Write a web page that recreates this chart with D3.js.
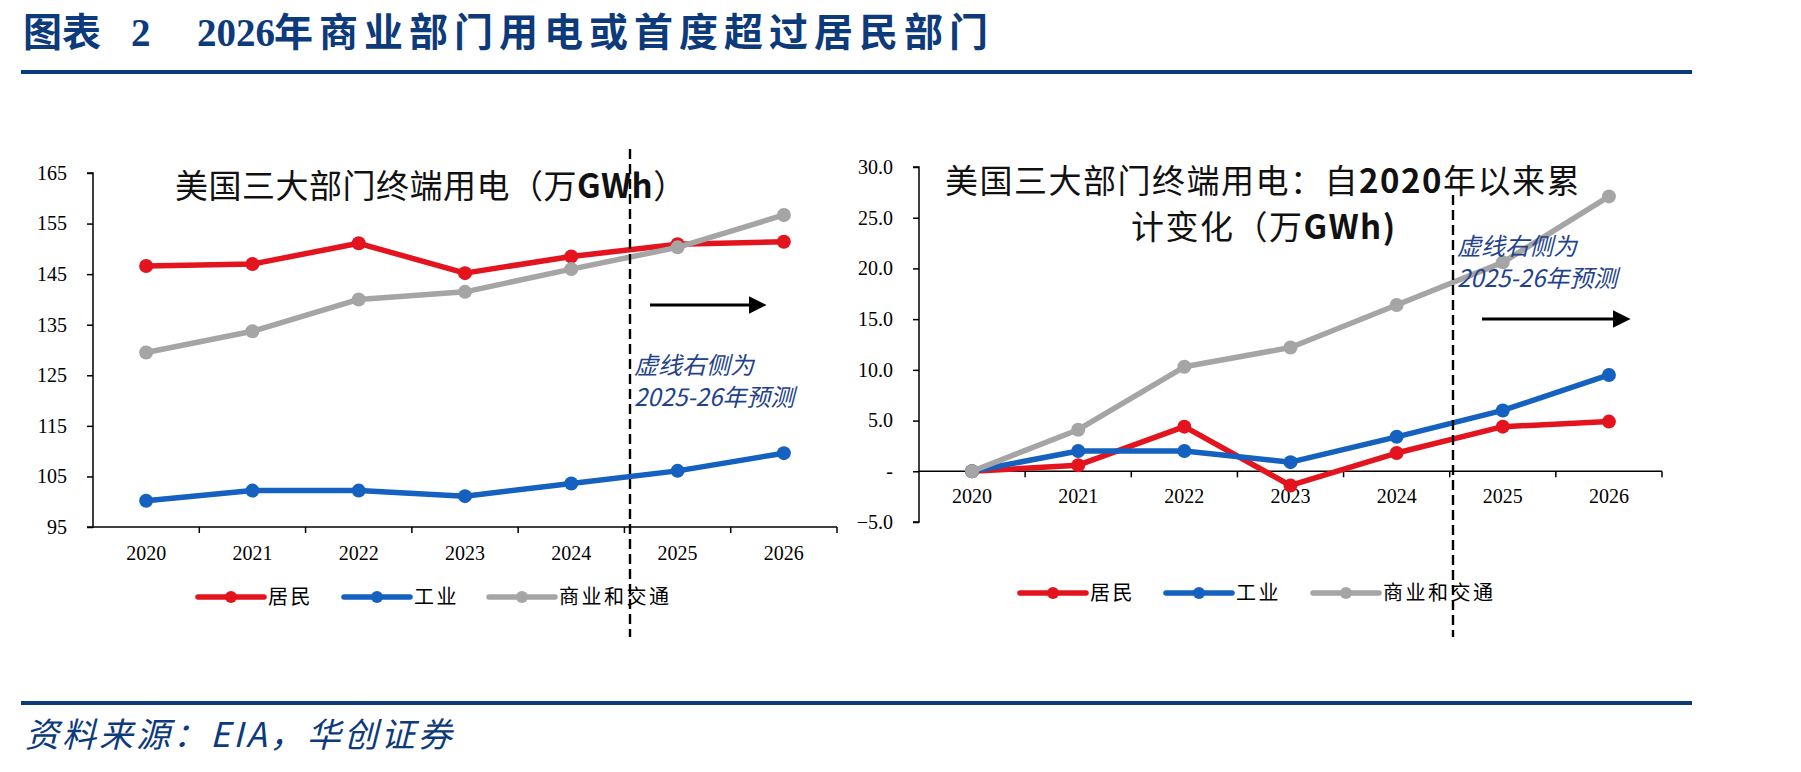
<!DOCTYPE html>
<html>
<head>
<meta charset="utf-8">
<script src="https://cdn.jsdelivr.net/npm/d3@7"></script>
<style>
  body { margin: 0; background: #fff; }
  svg text { font-family: "Liberation Serif", serif; }
</style>
</head>
<body>
<div id="chart"></div>
<script>
// data
const years = [2020, 2021, 2022, 2023, 2024, 2025, 2026];
const seriesNames = ["居民", "工业", "商业和交通"];
const seriesColors = ["#E3141D", "#1461BF", "#A5A5A5"];

// level, 万GWh
const resLevel = [146.6, 147.0, 151.1, 145.2, 148.5, 150.9, 151.4];
const indLevel = [100.2, 102.2, 102.2, 101.1, 103.6, 106.1, 109.6];
const comLevel = [129.5, 133.7, 140.0, 141.5, 146.0, 150.3, 156.7];

// cumulative change since 2020, 万GWh
const resChange = [0, 0.6, 4.4, -1.4, 1.8, 4.4, 4.9];
const indChange = [0, 2.0, 2.0, 0.9, 3.4, 6.0, 9.5];
const comChange = [0, 4.1, 10.3, 12.2, 16.4, 20.6, 27.1];

const leftTicks = [95, 105, 115, 125, 135, 145, 155, 165];
const rightTicks = [-5, 0, 5, 10, 15, 20, 25, 30];

const W = 1801, H = 772;
const navy = "#0D3A7B";
const noteBlue = "#23428A";
const cjk = '"Noto Sans CJK SC", "Noto Sans", sans-serif';
const serif = '"Liberation Serif", serif';

const svg = d3.select("#chart").append("svg")
  .attr("width", W).attr("height", H);

svg.append("defs").append("marker")
  .attr("id", "arrowHead")
  .attr("viewBox", "0 0 10 10")
  .attr("refX", 8).attr("refY", 5)
  .attr("markerWidth", 6).attr("markerHeight", 6)
  .attr("markerUnits", "strokeWidth")
  .attr("orient", "auto")
  .append("path").attr("d", "M0,0 L10,5 L0,10 Z").attr("fill", "#000");

// header
const head = svg.append("g")
  .attr("fill", navy)
  .style("font-size", "39px")
  .style("font-weight", "bold");
head.append("text").attr("x", 23).attr("y", 46)
  .style("font-family", cjk).text("图表");
head.append("text").attr("x", 131).attr("y", 46)
  .style("font-family", serif).text("2");
head.append("text").attr("x", 197).attr("y", 46)
  .style("font-family", serif).text("2026");
head.append("text").attr("x", 274).attr("y", 46)
  .style("font-family", cjk).attr("letter-spacing", 6)
  .text("年商业部门用电或首度超过居民部门");

svg.append("line")
  .attr("x1", 21).attr("x2", 1692).attr("y1", 72).attr("y2", 72)
  .attr("stroke", navy).attr("stroke-width", 4);
svg.append("line")
  .attr("x1", 21).attr("x2", 1692).attr("y1", 703).attr("y2", 703)
  .attr("stroke", navy).attr("stroke-width", 4);

svg.append("text")
  .attr("x", 25).attr("y", 747)
  .attr("fill", navy)
  .attr("letter-spacing", 3)
  .style("font-size", "34px")
  .style("font-style", "italic")
  .style("font-family", cjk)
  .text("资料来源：EIA，华创证券");

function drawPanel(cfg) {
  const x = d3.scaleBand().domain(years).range(cfg.xRange).padding(0);
  const y = d3.scaleLinear().domain(cfg.yDomain).range(cfg.yRange);
  const g = svg.append("g");

  // y axis
  const yAxis = g.append("g")
    .attr("transform", "translate(" + cfg.xRange[0] + ",0)")
    .call(d3.axisLeft(y).tickValues(cfg.ticks).tickSize(6).tickPadding(20)
      .tickFormat(cfg.fmt));
  yAxis.select(".domain").attr("stroke", "#000").attr("stroke-width", 1.5)
    .attr("d", "M-6," + y(cfg.ticks[cfg.ticks.length - 1]) + "H0V" + y(cfg.ticks[0]) + "H-6");
  yAxis.selectAll(".tick line").attr("stroke", "#000").attr("stroke-width", 1.5);
  yAxis.selectAll("text").style("font-size", "20px").attr("fill", "#000");

  // x axis (ticks at band boundaries)
  const base = y(cfg.xAxisAt);
  const xa = g.append("g");
  xa.append("line")
    .attr("x1", cfg.xRange[0]).attr("x2", cfg.xRange[1])
    .attr("y1", base).attr("y2", base)
    .attr("stroke", "#000").attr("stroke-width", 1.5);
  xa.selectAll(".bt").data(years.slice(1).concat(["end"]))
    .enter().append("line")
    .attr("x1", (d, i) => cfg.xRange[0] + (i + 1) * x.step())
    .attr("x2", (d, i) => cfg.xRange[0] + (i + 1) * x.step())
    .attr("y1", base).attr("y2", base + 6)
    .attr("stroke", "#000").attr("stroke-width", 1.5);
  xa.selectAll(".xl").data(years).enter().append("text")
    .attr("x", d => x(d) + x.bandwidth() / 2)
    .attr("y", cfg.xLabelY)
    .attr("text-anchor", "middle")
    .style("font-size", "20px")
    .text(d => d);

  // series
  const line = d3.line()
    .x((d, i) => x(years[i]) + x.bandwidth() / 2)
    .y(d => y(d));
  cfg.series.forEach((vals, k) => {
    g.append("path").datum(vals)
      .attr("d", line)
      .attr("fill", "none")
      .attr("stroke", seriesColors[k])
      .attr("stroke-width", 5.5)
      .attr("stroke-linejoin", "round");
    g.selectAll(".pt" + k).data(vals).enter().append("circle")
      .attr("cx", (d, i) => x(years[i]) + x.bandwidth() / 2)
      .attr("cy", d => y(d))
      .attr("r", 7)
      .attr("fill", seriesColors[k]);
  });

  // panel title, latin parts in bold
  cfg.title.forEach(t => {
    const tt = g.append("text")
      .attr("x", t.x).attr("y", t.y)
      .attr("fill", "#111")
      .attr("letter-spacing", cfg.titleSpacing)
      .style("font-family", cjk)
      .style("font-size", cfg.titleSize + "px");
    t.parts.forEach(p => {
      tt.append("tspan")
        .style("font-weight", p.bold ? "bold" : "normal")
        .text(p.s);
    });
  });

  // forecast divider
  g.append("line")
    .attr("x1", cfg.dashX).attr("x2", cfg.dashX)
    .attr("y1", cfg.dashY[0]).attr("y2", cfg.dashY[1])
    .attr("stroke", "#000").attr("stroke-width", 2.4)
    .attr("stroke-dasharray", "10,5");

  g.append("line")
    .attr("x1", cfg.arrow[0]).attr("x2", cfg.arrow[1] - 4)
    .attr("y1", cfg.arrow[2]).attr("y2", cfg.arrow[2])
    .attr("stroke", "#000").attr("stroke-width", 3)
    .attr("marker-end", "url(#arrowHead)");

  ["虚线右侧为", "2025-26年预测"].forEach((s, i) => {
    g.append("text")
      .attr("x", cfg.note[0]).attr("y", cfg.note[1] + i * 32)
      .attr("fill", noteBlue)
      .style("font-family", cjk)
      .style("font-style", "italic")
      .style("font-size", "24px")
      .text(s);
  });

  // legend
  const lg = g.append("g");
  seriesNames.forEach((name, k) => {
    const lx = cfg.legendX[k];
    lg.append("line")
      .attr("x1", lx).attr("x2", lx + 66)
      .attr("y1", cfg.legendY).attr("y2", cfg.legendY)
      .attr("stroke", seriesColors[k]).attr("stroke-width", 5.5)
      .attr("stroke-linecap", "round");
    lg.append("circle")
      .attr("cx", lx + 33).attr("cy", cfg.legendY).attr("r", 6)
      .attr("fill", seriesColors[k]);
    lg.append("text")
      .attr("x", lx + 70).attr("y", cfg.legendY + 7)
      .attr("letter-spacing", 2.5)
      .style("font-family", cjk)
      .style("font-size", "20px")
      .attr("fill", "#000")
      .text(name);
  });
}

drawPanel({
  xRange: [93, 837], yDomain: [95, 165], yRange: [527, 173],
  ticks: leftTicks, fmt: d3.format("d"), xAxisAt: 95, xLabelY: 560,
  series: [resLevel, indLevel, comLevel],
  title: [{ x: 175, y: 198, parts: [
    { s: "美国三大部门终端用电（万" }, { s: "GWh", bold: true }, { s: "）" }] }],
  titleSize: 33, titleSpacing: 0.5,
  dashX: 630, dashY: [149, 637],
  arrow: [650, 767, 305],
  note: [634, 374],
  legendX: [198, 344, 489], legendY: 597
});

drawPanel({
  xRange: [919, 1662], yDomain: [-5, 30], yRange: [522, 167],
  ticks: rightTicks, fmt: d => d === 0 ? "-" : d3.format(".1f")(d), xAxisAt: 0, xLabelY: 503,
  series: [resChange, indChange, comChange],
  title: [
    { x: 945, y: 193, parts: [
      { s: "美国三大部门终端用电：自" }, { s: "2020", bold: true }, { s: "年以来累" }] },
    { x: 1131, y: 239, parts: [
      { s: "计变化（万" }, { s: "GWh)", bold: true }] }
  ], titleSize: 33, titleSpacing: 1.5,
  dashX: 1453, dashY: [195, 637],
  arrow: [1482, 1631, 319],
  note: [1457, 255],
  legendX: [1020, 1166, 1313], legendY: 593
});
</script>
</body>
</html>
